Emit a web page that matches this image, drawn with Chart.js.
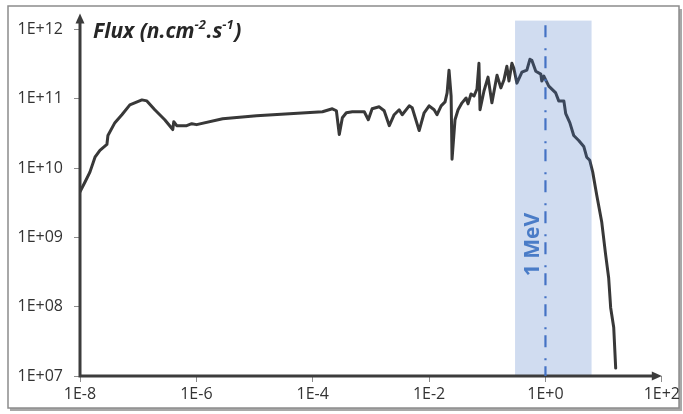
<!DOCTYPE html>
<html><head><meta charset="utf-8">
<script src="https://cdn.jsdelivr.net/npm/chart.js@4.4.1/dist/chart.umd.min.js"></script>
<style>html,body{margin:0;padding:0;background:#fff;}#wrap{width:683px;height:414px;position:relative;}</style>
</head><body><div id="wrap"><canvas id="c" width="683" height="414"></canvas></div>
<script>
// Neutron energy (MeV)
const energyMeV = [
  1.0e-8, 1.22e-8, 1.48e-8, 1.81e-8, 2.20e-8, 2.90e-8, 3.02e-8, 3.98e-8, 5.25e-8, 7.19e-8,
  1.16e-7, 1.41e-7, 1.93e-7, 2.86e-7, 3.93e-7, 4.09e-7, 4.60e-7, 6.82e-7, 8.32e-7, 1.01e-6,
  2.83e-6, 1.08e-5, 3.98e-5, 1.47e-4, 2.17e-4, 2.55e-4, 2.86e-4, 3.23e-4, 3.78e-4, 4.79e-4,
  7.69e-4, 9.02e-4, 1.05e-3, 1.39e-3, 1.69e-3, 2.07e-3, 2.51e-3, 3.06e-3, 3.45e-3, 4.55e-3,
  5.12e-3, 6.75e-3, 8.22e-3, 1.0e-2, 1.22e-2, 1.37e-2, 1.61e-2, 1.88e-2, 2.04e-2, 2.20e-2,
  2.39e-2, 2.48e-2, 2.79e-2, 3.15e-2, 3.68e-2, 4.32e-2, 4.67e-2, 5.25e-2, 5.92e-2, 6.65e-2,
  7.19e-2, 7.50e-2, 8.77e-2, 0.103, 0.120, 0.147, 0.171, 0.193, 0.217, 0.236,
  0.265, 0.286, 0.323, 0.394, 0.479, 0.540, 0.583, 0.682, 0.832, 0.865,
  0.938, 1.14, 1.50, 1.69, 2.07, 2.23, 2.62, 3.06, 3.73, 4.55,
  5.12, 5.77, 6.49, 7.60, 9.25, 10.8, 12.2, 13.2, 14.9, 16.1
];
// Flux (n.cm-2.s-1)
const flux = [
  4.54e9, 6.31e9, 8.77e9, 1.44e10, 1.81e10, 2.20e10, 2.96e10, 4.54e10, 5.91e10, 8.20e10,
  9.68e10, 9.36e10, 6.97e10, 5.01e10, 3.61e10, 4.69e10, 4.11e10, 4.11e10, 4.39e10, 4.25e10,
  5.18e10, 5.71e10, 6.11e10, 6.52e10, 7.20e10, 6.74e10, 3.06e10, 5.35e10, 6.31e10, 6.52e10,
  6.52e10, 5.01e10, 7.20e10, 7.69e10, 6.74e10, 4.11e10, 5.91e10, 6.97e10, 5.91e10, 7.94e10,
  7.44e10, 3.49e10, 6.31e10, 7.94e10, 6.97e10, 5.91e10, 7.94e10, 9.06e10, 1.22e11, 2.60e11,
  1.10e11, 1.35e10, 5.01e10, 6.97e10, 8.77e10, 1.03e11, 8.48e10, 1.18e11, 1.10e11, 1.39e11,
  3.27e11, 6.97e10, 1.30e11, 2.06e11, 8.77e10, 2.20e11, 1.44e11, 1.87e11, 2.96e11, 1.81e11,
  3.27e11, 2.77e11, 1.69e11, 2.43e11, 2.60e11, 3.73e11, 3.61e11, 2.51e11, 2.28e11, 1.81e11,
  2.13e11, 1.53e11, 1.22e11, 9.36e10, 9.36e10, 6.11e10, 4.54e10, 2.96e10, 2.51e10, 2.06e10,
  1.44e10, 1.30e10, 8.77e9, 4.11e9, 1.69e9, 5.71e8, 2.60e8, 9.68e7, 5.01e7, 1.30e7
];
const xTickValues = [1e-8, 1e-6, 1e-4, 1e-2, 1e0, 1e2];
const xTickLabels = ['1E-8', '1E-6', '1E-4', '1E-2', '1E+0', '1E+2'];
const yTickValues = [1e7, 1e8, 1e9, 1e10, 1e11, 1e12];
const yTickLabels = ['1E+07', '1E+08', '1E+09', '1E+10', '1E+11', '1E+12'];
const bandMeV = [0.3, 6.2];
const markerMeV = 1;
const markerLabel = '1 MeV';
const yTitleParts = [['Flux (n.cm', false], ['-2', true], ['.s', false], ['-1', true], [')', false]];

const FONT = "'Open Sans', 'DejaVu Sans', sans-serif";

const decor = {
  id: 'decor',
  beforeDraw(chart) {
    const ctx = chart.ctx;
    ctx.save();
    ctx.fillStyle = '#ffffff';
    ctx.fillRect(0, 0, chart.width, chart.height);
    ctx.fillStyle = '#a8a8a8';
    ctx.fillRect(10, 9, 672, 402);
    ctx.fillStyle = '#ffffff';
    ctx.fillRect(8, 6, 671, 402);
    ctx.strokeStyle = '#8c8c8c';
    ctx.lineWidth = 1.5;
    ctx.strokeRect(8, 6, 671, 402);
    ctx.restore();
  },
  afterDatasetsDraw(chart) {
    const ctx = chart.ctx, ca = chart.chartArea, xs = chart.scales.x;
    ctx.save();
    // energy band
    const b0 = xs.getPixelForValue(bandMeV[0]), b1 = xs.getPixelForValue(bandMeV[1]);
    ctx.fillStyle = 'rgba(68,114,196,0.25)';
    ctx.fillRect(b0, ca.top, b1 - b0, ca.bottom - ca.top);
    // axes with arrows
    ctx.strokeStyle = '#3c3c3c';
    ctx.fillStyle = '#3c3c3c';
    ctx.lineWidth = 3;
    ctx.beginPath();
    ctx.moveTo(ca.left, ca.bottom + 1.5);
    ctx.lineTo(ca.left, ca.top + 1);
    ctx.moveTo(ca.left - 1.5, ca.bottom);
    ctx.lineTo(ca.right - 8, ca.bottom);
    ctx.stroke();
    ctx.beginPath();
    ctx.moveTo(ca.left, ca.top - 7);
    ctx.lineTo(ca.left - 4.5, ca.top + 3);
    ctx.lineTo(ca.left + 4.5, ca.top + 3);
    ctx.closePath();
    ctx.fill();
    ctx.beginPath();
    ctx.moveTo(ca.right, ca.bottom);
    ctx.lineTo(ca.right - 10, ca.bottom - 4.5);
    ctx.lineTo(ca.right - 10, ca.bottom + 4.5);
    ctx.closePath();
    ctx.fill();
    // 1 MeV marker line
    const mx = xs.getPixelForValue(markerMeV);
    ctx.strokeStyle = '#4472C4';
    ctx.lineWidth = 2.2;
    ctx.setLineDash([12, 11, 2, 6]);
    ctx.lineDashOffset = 26.4;
    ctx.beginPath();
    ctx.moveTo(mx, ca.top);
    ctx.lineTo(mx, ca.bottom);
    ctx.stroke();
    ctx.setLineDash([]);
    // marker label
    ctx.save();
    ctx.translate(mx - 12, ca.top + (ca.bottom - ca.top) * 0.63);
    ctx.rotate(-Math.PI / 2);
    ctx.fillStyle = '#4a7cc7';
    ctx.font = 'bold 21px ' + FONT;
    ctx.textAlign = 'center';
    ctx.textBaseline = 'middle';
    ctx.fillText(markerLabel, 0, 0);
    ctx.restore();
    // y axis title with superscripts
    ctx.fillStyle = '#262626';
    ctx.textBaseline = 'alphabetic';
    ctx.textAlign = 'left';
    let tx = ca.left + 13;
    const ty = ca.top + 17;
    for (const [t, sup] of yTitleParts) {
      ctx.font = sup ? 'italic bold 13px ' + FONT : 'italic bold 21px ' + FONT;
      ctx.fillText(t, tx, sup ? ty - 9 : ty);
      tx += ctx.measureText(t).width + (sup ? 0.5 : 0);
    }
    ctx.restore();
  }
};

const points = energyMeV.map((e, i) => ({ x: e, y: flux[i] }));

new Chart(document.getElementById('c'), {
  type: 'line',
  data: {
    datasets: [{
      data: points,
      borderColor: '#383838',
      borderWidth: 3,
      pointRadius: 0,
      fill: false,
      tension: 0,
      borderJoinStyle: 'round',
      borderCapStyle: 'round'
    }]
  },
  options: {
    responsive: false,
    animation: false,
    devicePixelRatio: 1,
    layout: { padding: { left: 0, top: 17, right: 20, bottom: 0 } },
    plugins: { legend: { display: false }, tooltip: { enabled: false } },
    scales: {
      x: {
        type: 'logarithmic',
        min: 1e-8,
        max: 1e2,
        afterBuildTicks: (s) => { s.ticks = xTickValues.map(v => ({ value: v })); },
        afterFit: (s) => { s.height = 38; },
        ticks: {
          autoSkip: false, maxRotation: 0, padding: 3,
          color: '#333', font: { family: FONT, size: 16 },
          callback: (v, i) => xTickLabels[i]
        },
        grid: { drawOnChartArea: false, drawTicks: true, tickLength: 6, color: '#8c8c8c', lineWidth: 1 },
        border: { display: false }
      },
      y: {
        type: 'logarithmic',
        min: 1e7,
        max: 1.35e12,
        afterBuildTicks: (s) => { s.ticks = yTickValues.map(v => ({ value: v })); },
        afterFit: (s) => { s.width = 80; },
        ticks: {
          autoSkip: false, padding: 11,
          color: '#333', font: { family: FONT, size: 16 },
          callback: (v, i) => yTickLabels[i]
        },
        grid: { drawOnChartArea: false, drawTicks: true, tickLength: 6, color: '#8c8c8c', lineWidth: 1 },
        border: { display: false }
      }
    }
  },
  plugins: [decor]
});
</script>
</body></html>
